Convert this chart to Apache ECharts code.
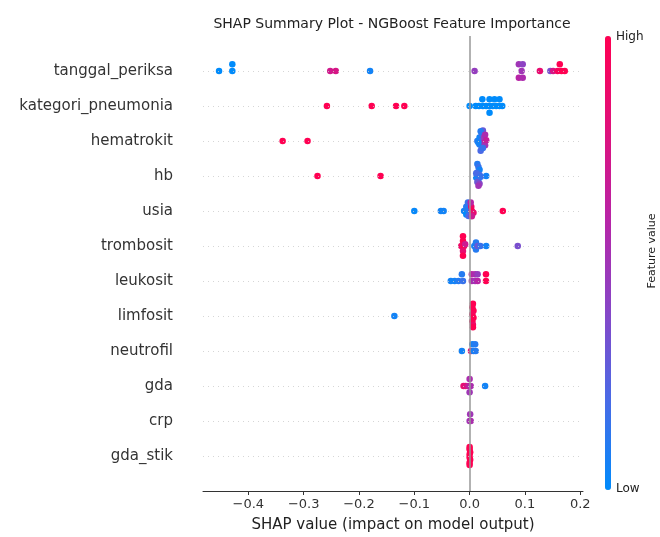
<!DOCTYPE html>
<html>
<head>
<meta charset="utf-8">
<script src="https://cdn.jsdelivr.net/npm/echarts@6/dist/echarts.min.js"></script>
<style>html,body{margin:0;padding:0;background:#fff;}#c{width:660px;height:537px;}</style>
</head>
<body>
<div id="c"></div>
<script>
// Feature order, top to bottom
const features = ['tanggal_periksa','kategori_pneumonia','hematrokit','hb','usia','trombosit','leukosit','limfosit','neutrofil','gda','crp','gda_stik'];
const tickValues = [-0.4,-0.3,-0.2,-0.1,0.0,0.1,0.2];

// Each point: [SHAP value, normalised feature value (0 low .. 1 high), beeswarm offset (row units)]
const pts_tanggal_periksa = [[-0.453,0.0,0],[-0.429,0.0,0],[-0.429,0.0,0.19],[-0.252,0.72,0],[-0.242,0.75,0],[-0.180,0.05,0],[0.009,0.45,0],[0.089,0.5,0.19],[0.096,0.42,0.19],[0.094,0.5,0],[0.089,0.6,-0.19],[0.096,0.55,-0.19],[0.127,0.85,0],[0.146,0.35,0],[0.151,0.75,0],[0.159,0.95,0],[0.166,1.0,0],[0.172,1.0,0],[0.163,1.0,0.19]];
const pts_kategori_pneumonia = [[-0.258,1,0],[-0.177,1,0],[-0.133,1,0],[-0.118,1,0],[0.000,0,0],[0.011,0,0],[0.017,0,0],[0.024,0,0],[0.030,0,0],[0.036,0,0],[0.042,0,0],[0.048,0,0],[0.054,0,0],[0.059,0,0],[0.023,0,0.19],[0.036,0,0.19],[0.045,0,0.19],[0.054,0,0.19],[0.036,0,-0.19]];
const pts_hematrokit = [[-0.338,1,0],[-0.293,1,0],[0.014,0.1,0.0],[0.018,0.05,0.1],[0.018,0.1,-0.1],[0.022,0.2,0.0],[0.022,0.15,0.2],[0.022,0.1,-0.2],[0.026,0.45,0.1],[0.026,0.6,-0.05],[0.024,0.3,0.3],[0.020,0.1,0.28],[0.028,0.55,0.18],[0.028,0.5,-0.12],[0.016,0.05,-0.05],[0.030,0.65,0.02],[0.020,0.2,-0.28],[0.024,0.15,-0.2]];
const pts_hb = [[-0.275,1,0],[-0.161,1,0],[0.030,0.05,0],[0.014,0.1,0.34],[0.016,0.15,0.26],[0.018,0.05,0.18],[0.014,0.1,0.1],[0.018,0.2,0.03],[0.012,0.05,-0.04],[0.016,0.1,-0.1],[0.014,0.3,-0.17],[0.018,0.4,-0.22],[0.016,0.5,-0.28],[0.012,0.2,0.08],[0.020,0.15,-0.02]];
const pts_usia = [[-0.100,0.02,0],[-0.052,0.05,0],[-0.047,0.05,0],[0.060,1.0,0],[-0.010,0.05,0],[-0.006,0.1,0.12],[-0.006,0.0,-0.1],[-0.003,0.15,0.24],[-0.002,0.1,0.02],[-0.002,0.2,-0.14],[0.003,0.9,0.12],[0.004,1.0,0],[0.007,0.85,-0.05],[0.004,0.7,-0.15],[0.002,0.6,0.24]];
const pts_trombosit = [[-0.012,1,0.28],[-0.012,1,0.14],[-0.015,0.9,0],[-0.010,1,0],[-0.012,0.85,-0.14],[-0.012,1,-0.28],[-0.008,0.7,0.05],[0.0085,0.05,0],[0.0115,0.1,0.1],[0.0115,0.1,-0.1],[0.0145,0.3,0],[0.0195,0.15,0],[0.030,0.05,0],[0.087,0.35,0]];
const pts_leukosit = [[-0.034,0.05,0],[-0.027,0.05,0],[-0.020,0.1,0],[-0.012,0.15,0],[-0.014,0.1,0.19],[0.004,0.55,0],[0.010,0.5,0],[0.0145,0.6,0],[0.004,0.6,0.19],[0.010,0.55,0.19],[0.0145,0.45,0.19],[0.0296,1.0,0],[0.0296,1.0,0.19]];
const pts_limfosit = [[-0.136,0.05,0],[0.006,1,0.35],[0.005,1,0.25],[0.007,1,0.15],[0.005,0.95,0.05],[0.007,1,-0.05],[0.005,1,-0.15],[0.006,0.9,-0.25],[0.006,1,-0.32]];
const pts_neutrofil = [[-0.014,0.05,0],[0.0025,0.8,0],[0.007,0.05,0],[0.011,0.1,0],[0.005,0.05,0.19],[0.010,0.1,0.19]];
const pts_gda = [[0.000,0.55,0.2],[-0.011,0.85,0],[-0.007,0.8,0],[-0.002,0.65,0],[0.002,0.55,0],[0.000,0.5,-0.18],[0.028,0.05,0]];
const pts_crp = [[0.001,0.5,0.19],[0.000,0.5,0],[0.002,0.55,0]];
const pts_gda_stik = [[0.000,1,0.26],[0.000,1,0.19],[0.001,1,0.11],[0.000,1,0.04],[0.000,1,-0.04],[0.001,1,-0.11],[0.000,1,-0.19],[0.000,1,-0.26]];

const featurePoints = [pts_tanggal_periksa, pts_kategori_pneumonia, pts_hematrokit, pts_hb, pts_usia, pts_trombosit, pts_leukosit, pts_limfosit, pts_neutrofil, pts_gda, pts_crp, pts_gda_stik];

const nRows = features.length;
const rowPos = i => nRows - 1 - i;
const scatterData = [];
featurePoints.forEach((arr, i) => {
  arr.forEach(p => scatterData.push([p[0], rowPos(i) + p[2], p[1]]));
});

const chart = echarts.init(document.getElementById('c'), null, {renderer: 'canvas'});
const FONT = 'DejaVu Sans';
const rowIdx = features.map((f, i) => rowPos(i));

chart.setOption({
  animation: false,
  backgroundColor: '#fff',
  textStyle: {fontFamily: FONT},
  title: {
    text: 'SHAP Summary Plot - NGBoost Feature Importance',
    left: 387, top: 12, textAlign: 'center',
    textStyle: {fontFamily: FONT, fontSize: 14, fontWeight: 'normal', color: '#222'}
  },
  grid: {left: 203, right: 77, top: 36, bottom: 46, containLabel: false, outerBoundsMode: 'none'},
  xAxis: {
    type: 'value', min: -0.482, max: 0.205,
    axisLine: {show: true, onZero: false, lineStyle: {color: '#333', width: 1}},
    axisTick: {show: true, customValues: tickValues, length: 4, lineStyle: {color: '#333'}},
    axisLabel: {customValues: tickValues, fontSize: 13, color: '#333', margin: 7,
      formatter: v => v.toFixed(1).replace('-', '\u2212')},
    splitLine: {show: false},
    name: 'SHAP value (impact on model output)', nameLocation: 'middle', nameGap: 27,
    nameTextStyle: {fontSize: 15, color: '#222', fontFamily: FONT}
  },
  yAxis: {
    type: 'value', min: -1, max: nRows,
    axisLine: {show: false, onZero: false}, axisTick: {show: false}, splitLine: {show: false},
    axisLabel: {customValues: rowIdx, fontSize: 15, color: '#333', margin: 30,
      formatter: v => features[nRows - 1 - Math.round(v)]}
  },
  visualMap: {
    type: 'continuous', dimension: 2, min: 0, max: 1, seriesIndex: 1,
    calculable: false, hoverLink: false, realtime: false,
    orient: 'vertical', left: 605, top: 36, padding: 0,
    itemWidth: 6, itemHeight: 454, showLabel: false,
    inRange: {color: ['#008bfb','#4a6ae6','#8845c6','#b824a6','#e0107a','#ff0052']}
  },
  graphic: [
    {type: 'text', x: 616, y: 37, style: {text: 'High', fontSize: 12, fill: '#222', fontFamily: FONT, textVerticalAlign: 'middle'}},
    {type: 'text', x: 616, y: 489, style: {text: 'Low', fontSize: 12, fill: '#222', fontFamily: FONT, textVerticalAlign: 'middle'}},
    {type: 'text', x: 652, y: 251, rotation: Math.PI / 2, style: {text: 'Feature value', fontSize: 11, fill: '#222', fontFamily: FONT, textAlign: 'center', textVerticalAlign: 'middle'}}
  ],
  series: [
    {
      type: 'scatter', z: 1, silent: true, symbolSize: 0, data: [[0, -5]],
      markLine: {
        silent: true, symbol: 'none', animation: false, label: {show: false},
        data: [{xAxis: 0, lineStyle: {color: '#999', width: 1.5, type: 'solid'}}]
          .concat(rowIdx.map(r => ({yAxis: r, lineStyle: {color: '#ccc', width: 0.8, type: [1, 4]}})))
      }
    },
    {
      type: 'scatter', z: 3, symbolSize: 6.5, data: scatterData,
      itemStyle: {opacity: 1}
    }
  ]
});
</script>
</body>
</html>
